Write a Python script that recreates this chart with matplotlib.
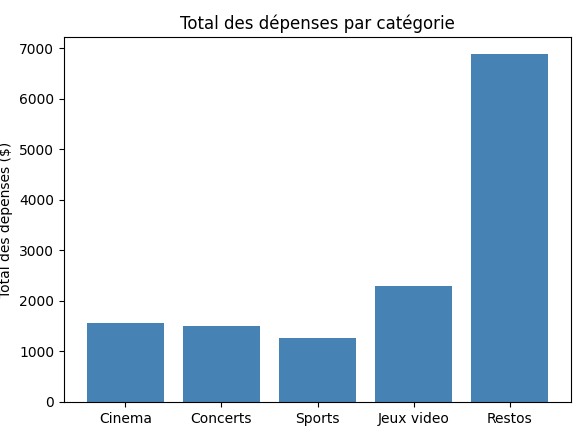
import matplotlib
matplotlib.use("Agg")
import matplotlib.pyplot as plt

categories = ["Cinema", "Concerts", "Sports", "Jeux video", "Restos"]
totals = [1565, 1505, 1270, 2305, 6880]

fig, ax = plt.subplots(figsize=(5.8, 4.36), dpi=100)
ax.bar(categories, totals, color="steelblue")
ax.set_title("Total des dépenses par catégorie")
ax.set_ylabel("Total des dépenses ($)")
fig.subplots_adjust(left=0.11, right=0.985, top=0.915, bottom=0.078)
fig.savefig("out.png", dpi=100)
